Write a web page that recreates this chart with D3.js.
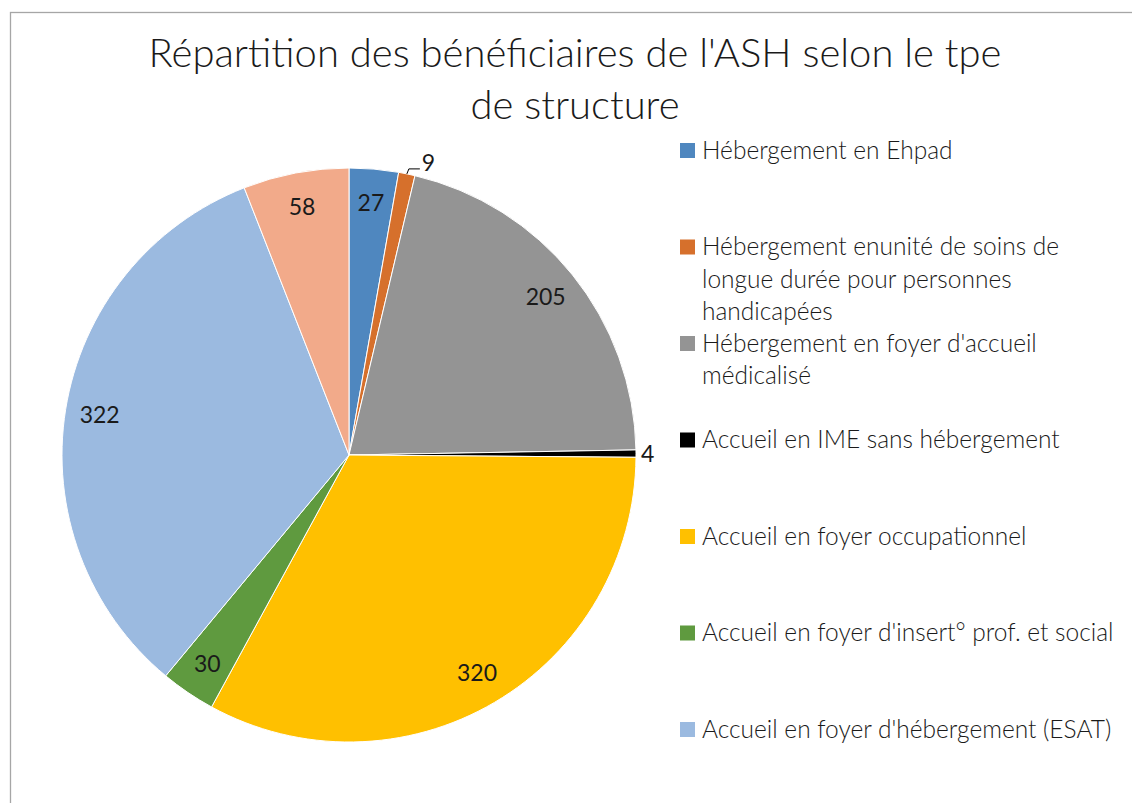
<!DOCTYPE html>
<html>
<head>
<meta charset="utf-8">
<script src="https://cdn.jsdelivr.net/npm/d3@7"></script>
<style>
  body { margin: 0; background: #fff; }
  text { font-family: Lato, "Open Sans", sans-serif; fill: #1a1a1a; }
</style>
</head>
<body>
<div id="chart"></div>
<script>
// data
const categories = [
    "Hébergement en Ehpad",
    "Hébergement enunité de soins de longue durée pour personnes handicapées",
    "Hébergement en foyer d'accueil médicalisé",
    "Accueil en IME sans hébergement",
    "Accueil en foyer occupationnel",
    "Accueil en foyer d'insert° prof. et social",
    "Accueil en foyer d'hébergement (ESAT)",
    "Autre"
];
const values = [27, 9, 205, 4, 320, 30, 322, 58];
const colors = ["#4f87bf", "#d6702c", "#949494", "#000000", "#ffc000", "#5f9a3f", "#9bbae0", "#f2aa8a"];
// legend lines as wrapped in the reference (the last slice has no legend entry)
const legendLines = [
    ["Hébergement en Ehpad"],
    ["Hébergement enunité de soins de", "longue durée pour personnes", "handicapées"],
    ["Hébergement en foyer d'accueil", "médicalisé"],
    ["Accueil en IME sans hébergement"],
    ["Accueil en foyer occupationnel"],
    ["Accueil en foyer d'insert° prof. et social"],
    ["Accueil en foyer d'hébergement (ESAT)"]
];
const titleLines = ["Répartition des bénéficiaires de l'ASH selon le tpe", "de structure"];

const width = 1132, height = 803;
const svg = d3.select("#chart").append("svg")
    .attr("width", width)
    .attr("height", height);

// chart frame
svg.append("rect")
    .attr("x", 10.5).attr("y", 12.5)
    .attr("width", width + 10).attr("height", height + 10)
    .attr("fill", "#fff")
    .attr("stroke", "#a6a6a6")
    .attr("stroke-width", 1.3);

// title
svg.append("g").selectAll("text")
    .data(titleLines)
    .join("text")
    .attr("x", 575)
    .attr("y", (d, i) => 67 + i * 52)
    .attr("text-anchor", "middle")
    .style("font-size", "40px")
    .style("font-weight", 300)
    .text(d => d);

// pie
const cx = 349, cy = 455, radius = 287;
const pie = d3.pie().sort(null).value(d => d);
const arc = d3.arc().innerRadius(0).outerRadius(radius);
const labelArc = d3.arc().innerRadius(radius * 0.88).outerRadius(radius * 0.88);
const arcs = pie(values);

const g = svg.append("g").attr("transform", `translate(${cx},${cy})`);

g.selectAll("path")
    .data(arcs)
    .join("path")
    .attr("d", arc)
    .attr("fill", (d, i) => colors[i])
    .attr("stroke", "#fff")
    .attr("stroke-width", 1);

// labels: small slices go outside
const total = d3.sum(values);
arcs.forEach((d, i) => {
    const mid = (d.startAngle + d.endAngle) / 2;
    if (d.value / total > 0.02) {
        const [x, y] = labelArc.centroid(d);
        g.append("text")
            .attr("x", x).attr("y", y)
            .attr("text-anchor", "middle")
            .attr("dy", "0.35em")
            .style("font-size", "23px")
            .text(d.value);
    } else if (mid < Math.PI / 4) {
        // leader line then label to the right
        const ex = Math.sin(mid) * radius, ey = -Math.cos(mid) * radius;
        const kx = ex + 2, ky = ey - 5;
        g.append("path")
            .attr("d", `M${ex},${ey}L${kx},${ky}L${kx + 11},${ky}`)
            .attr("fill", "none")
            .attr("stroke", "#000")
            .attr("stroke-width", 1);
        g.append("text")
            .attr("x", kx + 13).attr("y", ky - 6)
            .attr("dy", "0.35em")
            .style("font-size", "23px")
            .text(d.value);
    } else {
        const r = radius + 5;
        g.append("text")
            .attr("x", Math.sin(mid) * r).attr("y", -Math.cos(mid) * r)
            .attr("dy", "0.35em")
            .style("font-size", "23px")
            .text(d.value);
    }
});

// legend
const legend = svg.append("g").attr("transform", "translate(680,150)");
const item = legend.selectAll("g")
    .data(legendLines)
    .join("g")
    .attr("transform", (d, i) => `translate(0,${i * 96.5})`);

item.append("rect")
    .attr("x", 0).attr("y", -7)
    .attr("width", 15).attr("height", 15)
    .attr("fill", (d, i) => colors[i]);

item.selectAll("text")
    .data(d => d)
    .join("text")
    .attr("x", 22)
    .attr("y", (d, j) => j * 32.5)
    .attr("dy", "0.35em")
    .style("font-size", "24.5px")
    .style("font-weight", 300)
    .text(d => d);
</script>
</body>
</html>
